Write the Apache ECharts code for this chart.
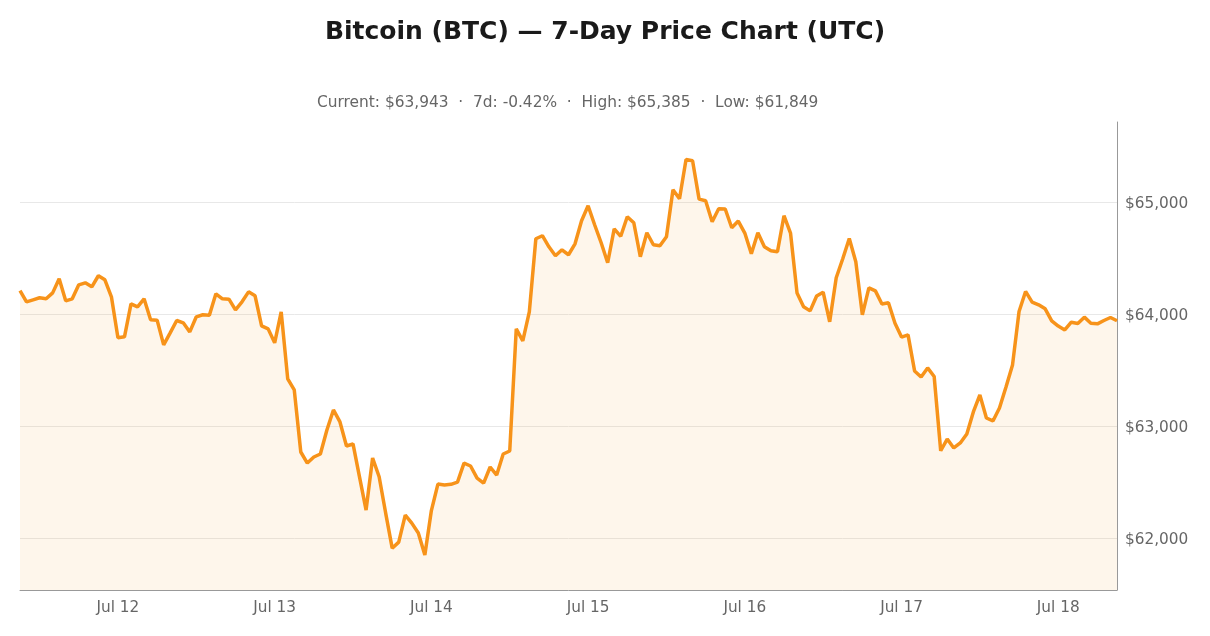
<!DOCTYPE html>
<html>
<head>
<meta charset="utf-8">
<script src="https://cdn.jsdelivr.net/npm/echarts@6/dist/echarts.min.js"></script>
<style>
    html, body { margin: 0; padding: 0; background: #fff; }
    #chart { width: 1210px; height: 636px; }
</style>
</head>
<body>
<div id="chart"></div>
<script>
    // hourly closes, UTC, from Jul 11 09:00 to Jul 18 09:00
    const startHour = Date.UTC(2024, 6, 11, 9)
    const prices = [
        64213, 64112, 64130, 64148, 64139, 64192, 64318, 64121, 64139, 64264,
        64282, 64246, 64345, 64309, 64157, 63790, 63799, 64094, 64067, 64139,
        63951, 63948, 63727, 63834, 63945, 63924, 63843, 63978, 63996, 63992,
        64184, 64139, 64136, 64040, 64112, 64201, 64166, 63897, 63870, 63745,
        64022, 63423, 63324, 62769, 62670, 62724, 62751, 62966, 63145, 63038,
        62823, 62841, 62545, 62250, 62715, 62548, 62223, 61909, 61963, 62205,
        62133, 62044, 61849, 62245, 62482, 62474, 62480, 62500, 62670, 62644,
        62536, 62491, 62635, 62563, 62751, 62778, 63870, 63763, 64022, 64676,
        64703, 64604, 64524, 64577, 64533, 64631, 64837, 64971, 64801, 64640,
        64461, 64765, 64698, 64873, 64819, 64515, 64730, 64622, 64613, 64694,
        65115, 65034, 65385, 65374, 65030, 65016, 64828, 64945, 64942, 64774,
        64834, 64727, 64542, 64730, 64604, 64569, 64560, 64882, 64727, 64190,
        64067, 64031, 64164, 64198, 63933, 64327, 64497, 64679, 64470, 63996,
        64237, 64210, 64092, 64103, 63921, 63797, 63816, 63494, 63440, 63521,
        63444, 62780, 62885, 62805, 62850, 62930, 63127, 63279, 63073, 63047,
        63163, 63351, 63548, 64025, 64205, 64110, 64085, 64049, 63942, 63895,
        63861, 63930, 63918, 63975, 63921, 63915, 63945, 63972, 63943
    ]
    const monthNames = ['Jan', 'Feb', 'Mar', 'Apr', 'May', 'Jun', 'Jul', 'Aug', 'Sep', 'Oct', 'Nov', 'Dec']
    const hours = prices.map((p, i) => new Date(startHour + i * 3600 * 1000))
    const categories = hours.map(d => d.toISOString().slice(0, 16).replace('T', ' '))
    const yMin = 61535, yMax = 65720

    const subtitle = 'Current: $63,943  ·  7d: -0.42%  ·  High: $65,385  ·  Low: $61,849'

    let myChart = echarts.init(document.getElementById('chart'))
    myChart.setOption({
        animation: false,
        title: [{
            text: 'Bitcoin (BTC) — 7-Day Price Chart (UTC)',
            left: 'center',
            top: 15,
            textStyle: {
                fontFamily: 'DejaVu Sans',
                fontSize: 25,
                fontWeight: 'bold',
                color: '#1a1a1a'
            }
        }, {
            text: subtitle,
            left: 312,
            top: 90,
            textStyle: {
                fontFamily: 'DejaVu Sans',
                fontSize: 15.4,
                fontWeight: 'normal',
                color: '#666'
            }
        }],
        grid: {
            left: 20,
            right: 93,
            top: 122,
            bottom: 46
        },
        xAxis: {
            type: 'category',
            boundaryGap: false,
            data: categories,
            axisLine: { lineStyle: { color: '#999' } },
            axisTick: { show: false },
            axisLabel: {
                color: '#666',
                fontFamily: 'DejaVu Sans',
                fontSize: 15.3,
                margin: 11,
                interval: (idx) => hours[idx].getUTCHours() === 0,
                formatter: (val, idx) => {
                    let d = hours[idx]
                    return monthNames[d.getUTCMonth()] + ' ' + d.getUTCDate()
                }
            },
            splitLine: { show: false }
        },
        yAxis: {
            type: 'value',
            position: 'right',
            min: yMin,
            max: yMax,
            splitNumber: 4,
            axisLine: { show: true, lineStyle: { color: '#999' } },
            axisTick: { show: false },
            axisLabel: {
                showMinLabel: false,
                showMaxLabel: false,
                margin: 8,
                formatter: v => (v % 1000 === 0) ? '{p|$' + v.toLocaleString('en-US') + '}' : '',
                rich: {
                    p: {
                        color: '#666',
                        fontFamily: 'DejaVu Sans',
                        fontSize: 15.3,
                        padding: [4, 0, 0, 0]
                    }
                }
            },
            splitLine: {
                showMaxLine: false,
                lineStyle: { color: '#e8e8e8', width: 1 }
            }
        },
        series: [{
            type: 'line',
            data: prices,
            showSymbol: false,
            smooth: false,
            lineStyle: { color: '#F7931A', width: 3.5 },
            itemStyle: { color: '#F7931A' },
            areaStyle: { color: 'rgba(247,147,26,0.12)' }
        }]
    })
</script>
</body>
</html>
